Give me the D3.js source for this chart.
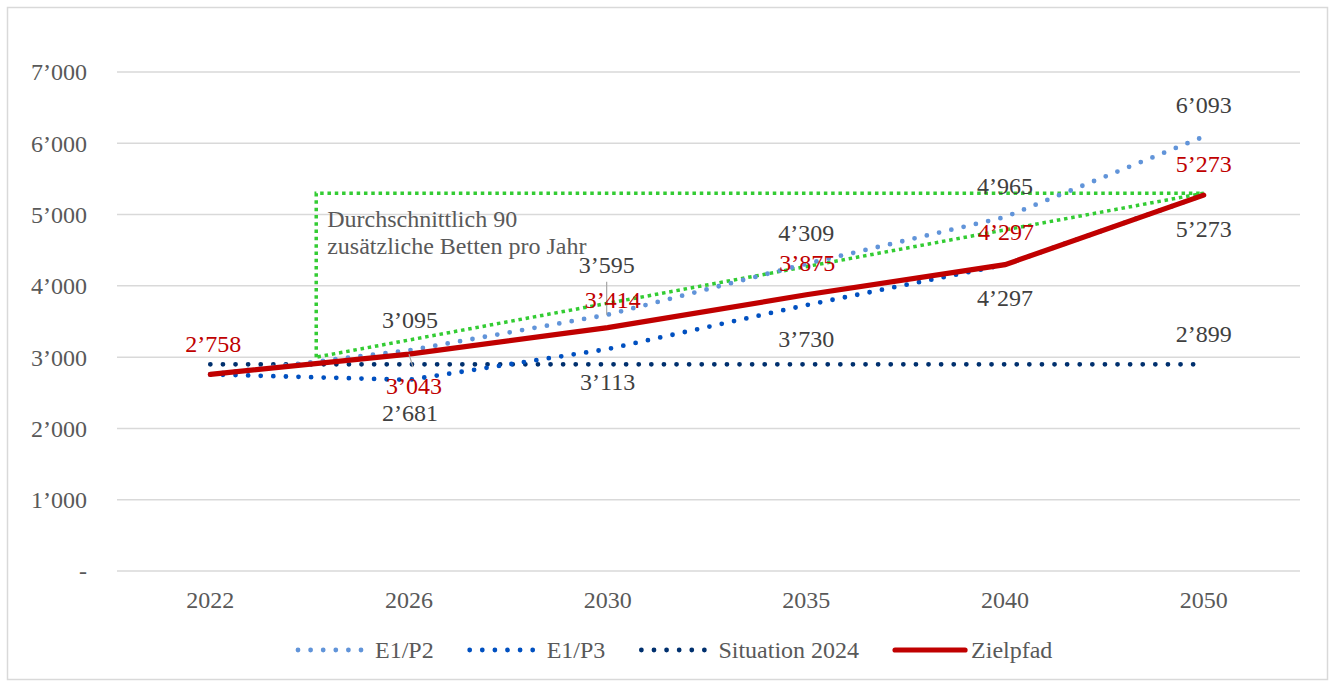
<!DOCTYPE html>
<html>
<head>
<meta charset="utf-8">
<title>Betten Zielpfad</title>
<script src="https://d3js.org/d3.v7.min.js"></script>
<style>
  body { margin: 0; background: white; }
  text { font-family: "Liberation Serif", "Times New Roman", serif; }
  .tick-label { fill: #595959; font-size: 24px; }
  .data-label { font-size: 24px; }
  .legend-text { fill: #595959; font-size: 24px; }
</style>
</head>
<body>
<svg id="chart"></svg>
<script>
var width = 1330;
var height = 684;

// data
var years = ["2022", "2026", "2030", "2035", "2040", "2050"];
var e1p2 = [2758, 3095, 3595, 4309, 4965, 6093];
var e1p3 = [2758, 2681, 3113, 3730, 4297, 5273];
var situation2024 = [2899, 2899, 2899, 2899, 2899, 2899];
var zielpfad = [2758, 3043, 3414, 3875, 4297, 5273];
var yTicks = [0, 1000, 2000, 3000, 4000, 5000, 6000, 7000];

// green annotation: start (fractional category index, value) and end value
var trendStartIndex = 0.533;
var trendStartValue = 3000;
var trendEndValue = 5300;
var trendText = ["Durchschnittlich 90", "zusätzliche Betten pro Jahr"];

// label offsets in px (dx, dy) relative to the point, null = no label
var e1p2Offsets = [null, [1, -31], [-1, -50], [0, -31], [0, -31], [0, -32]];
var e1p3Offsets = [null, [1, 33], [0, 33], [0, 33], [0, 33], [0, 33]];
var situationOffsets = [null, null, null, null, null, [0, -31]];
var zielOffsets = [[3, -31], [5, 32], [5, -28], [1, -32], [1, -33], [0, -32]];

var series = [
  { name: "E1/P2", values: e1p2, offsets: e1p2Offsets, color: "#6194d9", dotted: true, labelColor: "#404040" },
  { name: "E1/P3", values: e1p3, offsets: e1p3Offsets, color: "#0050c0", dotted: true, labelColor: "#404040" },
  { name: "Situation 2024", values: situation2024, offsets: situationOffsets, color: "#00306e", dotted: true, labelColor: "#404040" },
  { name: "Zielpfad", values: zielpfad, offsets: zielOffsets, color: "#c00000", dotted: false, labelColor: "#c00000" }
];

var svg = d3.select("#chart").attr("width", width).attr("height", height);

// chart border
svg.append("rect")
  .attr("x", 7.5).attr("y", 7.5)
  .attr("width", 1320).attr("height", 672)
  .attr("fill", "white").attr("stroke", "#d9d9d9").attr("stroke-width", 1.5);

var plotLeft = 117, plotRight = 1300;

// category index -> x
var xi = d3.scaleLinear().domain([-0.5, years.length - 0.5]).range([111, 1303]);
var y = d3.scaleLinear().domain([0, 7000]).range([571, 72]);

function fmt(v) {
  if (v === 0) return "-";
  return d3.format(",")(v).replace(/,/g, "\u2019");
}

// gridlines + y labels
svg.append("g").selectAll("line")
  .data(yTicks).enter().append("line")
  .attr("x1", plotLeft).attr("x2", plotRight)
  .attr("y1", function(d) { return y(d); })
  .attr("y2", function(d) { return y(d); })
  .attr("stroke", "#d9d9d9").attr("stroke-width", 1.5);

svg.append("g").selectAll("text")
  .data(yTicks).enter().append("text")
  .attr("class", "tick-label")
  .attr("x", 87)
  .attr("y", function(d) { return y(d); })
  .attr("dy", "0.35em")
  .attr("text-anchor", "end")
  .text(fmt);

// x labels
svg.append("g").selectAll("text")
  .data(years).enter().append("text")
  .attr("class", "tick-label")
  .attr("x", function(d, i) { return xi(i); })
  .attr("y", 600)
  .attr("dy", "0.35em")
  .attr("text-anchor", "middle")
  .text(function(d) { return d; });

// green trend triangle
var tri = [
  [xi(trendStartIndex), y(trendStartValue)],
  [xi(trendStartIndex), y(trendEndValue)],
  [xi(years.length - 1), y(trendEndValue)],
  [xi(trendStartIndex), y(trendStartValue)]
];
svg.append("path")
  .attr("d", d3.line()(tri))
  .attr("fill", "none")
  .attr("stroke", "#33cc33")
  .attr("stroke-width", 3.5)
  .attr("stroke-dasharray", "3.5,3.8");

svg.append("text")
  .attr("class", "tick-label")
  .attr("x", xi(trendStartIndex) + 11)
  .attr("y", y(trendEndValue) + 25)
  .selectAll("tspan")
  .data(trendText).enter().append("tspan")
  .attr("x", xi(trendStartIndex) + 11)
  .attr("dy", function(d, i) { return i === 0 ? "0.35em" : 27; })
  .text(function(d) { return d; });

// lines
var line = d3.line()
  .x(function(d, i) { return xi(i); })
  .y(function(d) { return y(d); });

function styleSeries(sel, s) {
  sel.attr("fill", "none").attr("stroke", s.color);
  if (s.dotted) {
    sel.attr("stroke-width", 4.8)
      .attr("stroke-linecap", "round")
      .attr("stroke-dasharray", "0,12.6");
  } else {
    sel.attr("stroke-width", 5.2).attr("stroke-linecap", "round");
  }
}

// draw order: situation, e1p3, e1p2, zielpfad
[2, 1, 0, 3].forEach(function(k) {
  var s = series[k];
  svg.append("path").attr("d", line(s.values)).call(styleSeries, s);
});

// leader lines
svg.append("line")
  .attr("x1", xi(1)).attr("y1", y(zielpfad[1]))
  .attr("x2", xi(1) + 4).attr("y2", y(zielpfad[1]) + 13)
  .attr("stroke", "#a6a6a6").attr("stroke-width", 1.2);
svg.append("line")
  .attr("x1", xi(2) - 1).attr("y1", y(e1p2[2]) - 33)
  .attr("x2", xi(2) - 1).attr("y2", y(e1p2[2]))
  .attr("stroke", "#a6a6a6").attr("stroke-width", 1.2);

// data labels
series.forEach(function(s) {
  svg.append("g").selectAll("text")
    .data(s.values.map(function(v, i) { return { v: v, i: i, o: s.offsets[i] }; })
      .filter(function(d) { return d.o; }))
    .enter().append("text")
    .attr("class", "data-label")
    .attr("fill", s.labelColor)
    .attr("x", function(d) { return xi(d.i) + d.o[0]; })
    .attr("y", function(d) { return y(d.v) + d.o[1]; })
    .attr("dy", "0.35em")
    .attr("text-anchor", "middle")
    .text(function(d) { return fmt(d.v); });
});

// legend
var legend = svg.append("g");
var lx = 298, ly = 650;
series.forEach(function(s) {
  var len = s.dotted ? 64 : 70;
  var gap = s.dotted ? 13 : 6;
  legend.append("line")
    .attr("x1", lx).attr("x2", lx + len)
    .attr("y1", ly).attr("y2", ly)
    .call(styleSeries, s);
  var t = legend.append("text")
    .attr("class", "legend-text")
    .attr("x", lx + len + gap)
    .attr("y", ly)
    .attr("dy", "0.35em")
    .text(s.name);
  lx = lx + len + gap + t.node().getComputedTextLength() + 36;
});
</script>
</body>
</html>
